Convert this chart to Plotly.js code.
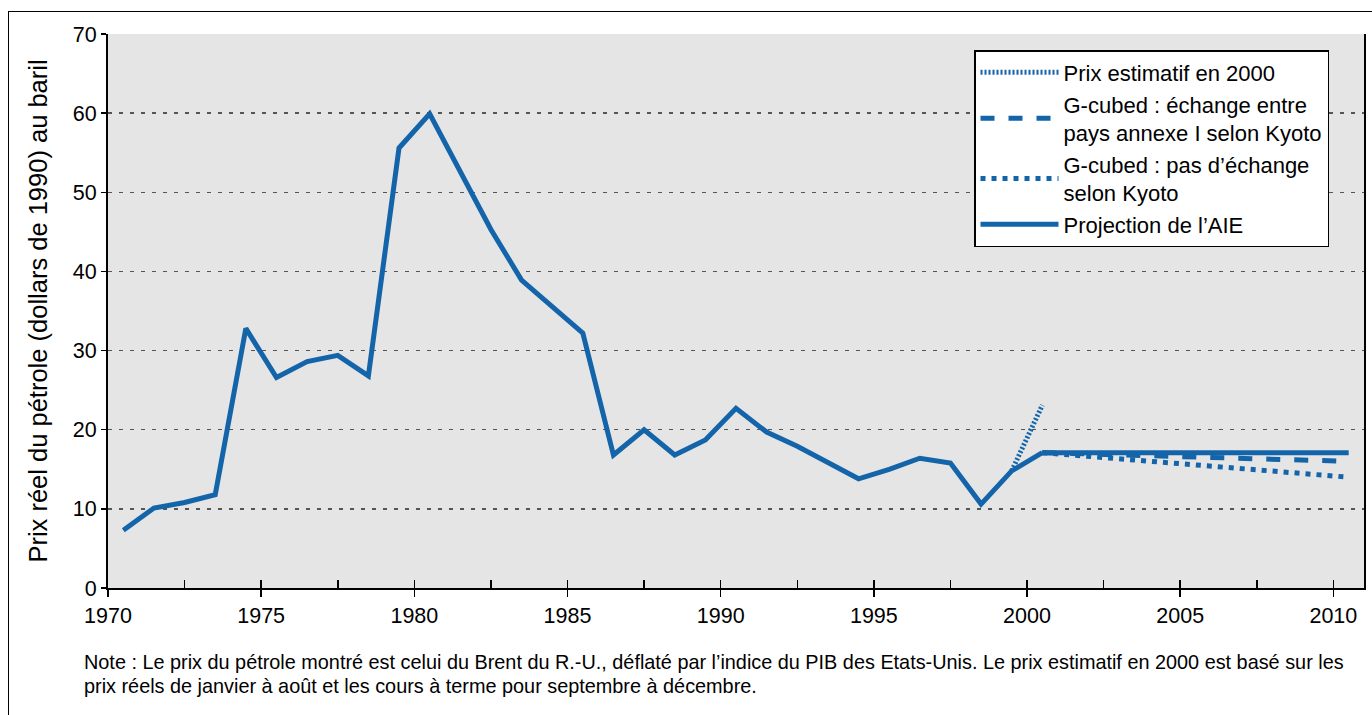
<!DOCTYPE html>
<html>
<head>
<meta charset="utf-8">
<script src="https://cdn.plot.ly/plotly-3.0.1.min.js"></script>
<style>
  html, body { margin: 0; padding: 0; background: #fff; }
  #wrap { position: relative; width: 1372px; height: 715px; overflow: hidden; }
  #chart { position: absolute; left: 0; top: 0; width: 1372px; height: 715px; }
  #frame { position: absolute; left: 8px; top: 11px; width: 1400px; height: 800px;
           border: 1.5px solid #000; pointer-events: none; box-sizing: border-box; }
</style>
</head>
<body>
<div id="wrap"><div id="chart"></div><div id="frame"></div></div>
<script>
// Historical real oil price (1990 dollars per barrel), plotted at mid-year
const histYears = [1970.5, 1971.5, 1972.5, 1973.5, 1974.5, 1975.5, 1976.5, 1977.5, 1978.5, 1979.5,
                   1980.5, 1981.5, 1982.5, 1983.5, 1984.5, 1985.5, 1986.5, 1987.5, 1988.5, 1989.5,
                   1990.5, 1991.5, 1992.5, 1993.5, 1994.5, 1995.5, 1996.5, 1997.5, 1998.5, 1999.5, 2000.5];
const histPrice = [7.3, 10.1, 10.8, 11.8, 32.8, 26.6, 28.6, 29.4, 26.8, 55.6,
                   59.9, 52.6, 45.3, 38.9, 35.5, 32.2, 16.8, 20.0, 16.8, 18.7,
                   22.7, 19.7, 17.9, 15.9, 13.8, 15.0, 16.4, 15.8, 10.6, 14.8, 17.1];

// Estimated price in 2000
const estYears = [1999.5, 2000.5];
const estPrice = [14.8, 23.1];

// Projections
const projYears = [2000.5, 2010.5];
const gcubedTrade = [17.1, 16.0];
const gcubedNoTrade = [17.1, 14.0];
const ieaProjection = [17.1, 17.1];

const seriesNames = [
  "Prix estimatif en 2000",
  "G-cubed : échange entre<br>pays annexe I selon Kyoto",
  "G-cubed : pas d’échange<br>selon Kyoto",
  "Projection de l’AIE"
];

const xTickVals = [1970, 1975, 1980, 1985, 1990, 1995, 2000, 2005, 2010];
const xTickText = ["1970", "1975", "1980", "1985", "1990", "1995", "2000", "2005", "2010"];
const yTickVals = [0, 10, 20, 30, 40, 50, 60, 70];

const noteLine1 = "Note : Le prix du pétrole montré est celui du Brent du R.-U., déflaté par l’indice du PIB des Etats-Unis. Le prix estimatif en 2000 est basé sur les";
const noteLine2 = "prix réels de janvier à août et les cours à terme pour septembre à décembre.";

const blue = "#1464AA";
const font = "'Liberation Sans', Arial, Helvetica, sans-serif";

const traces = [
  { x: histYears, y: histPrice, mode: "lines", showlegend: false, hoverinfo: "x+y",
    line: { color: blue, width: 5 } },
  { x: estYears, y: estPrice, mode: "lines", name: seriesNames[0],
    line: { color: blue, width: 5, dash: "2px,2px" } },
  { x: projYears, y: gcubedTrade, mode: "lines", name: seriesNames[1],
    line: { color: blue, width: 5, dash: "14px,14px" } },
  { x: projYears, y: gcubedNoTrade, mode: "lines", name: seriesNames[2],
    line: { color: blue, width: 5, dash: "5px,6px" } },
  { x: projYears, y: ieaProjection, mode: "lines", name: seriesNames[3],
    line: { color: blue, width: 5 } },
  // invisible trace on overlay axis for inner minor ticks
  { x: [1970, 2011], y: [0, 0], xaxis: "x2", mode: "lines", showlegend: false,
    hoverinfo: "skip", line: { width: 0 }, opacity: 0 }
];

const layout = {
  width: 1372, height: 715,
  margin: { l: 108, r: 8, t: 34, b: 127 },
  paper_bgcolor: "#ffffff",
  plot_bgcolor: "#E5E5E5",
  font: { family: font, color: "#000", size: 21 },
  showlegend: true,
  legend: {
    x: 0.6895, y: 0.971, xanchor: "left", yanchor: "top",
    bgcolor: "#ffffff", bordercolor: "#000", borderwidth: 1.5,
    font: { family: font, size: 22, color: "#000" },
    itemwidth: 78, tracegroupgap: 0
  },
  xaxis: {
    range: [1970, 2011], tickvals: xTickVals, ticktext: xTickText,
    ticks: "outside", ticklen: 7, tickwidth: 1.5, tickcolor: "#000",
    showline: true, linecolor: "#000", linewidth: 2,
    showgrid: false, zeroline: false,
    tickfont: { family: font, size: 21.5, color: "#000" }
  },
  xaxis2: {
    overlaying: "x", anchor: "y", side: "bottom", matches: "x",
    range: [1970, 2011], tick0: 1970, dtick: 2.5,
    ticks: "inside", ticklen: 8, tickwidth: 1.5, tickcolor: "#000",
    showticklabels: false, showline: false, showgrid: false, zeroline: false
  },
  yaxis: {
    range: [0, 70], tickvals: yTickVals,
    ticks: "outside", ticklen: 5, tickwidth: 1.5, tickcolor: "#000",
    showline: true, linecolor: "#000", linewidth: 2, mirror: true,
    showgrid: true, gridcolor: "#555555", gridwidth: 1.5, griddash: "4px,7px",
    zeroline: false,
    tickfont: { family: font, size: 21.5, color: "#000" },
    title: { text: "Prix réel du pétrole (dollars de 1990) au baril",
             font: { family: font, size: 25.5, color: "#000" }, standoff: 18 }
  },
  annotations: [
    { xref: "paper", yref: "paper", x: -0.0207, y: -0.1336, xanchor: "left", yanchor: "middle",
      text: noteLine1, showarrow: false, font: { family: font, size: 19.85, color: "#000" } },
    { xref: "paper", yref: "paper", x: -0.0207, y: -0.1769, xanchor: "left", yanchor: "middle",
      text: noteLine2, showarrow: false, font: { family: font, size: 19.85, color: "#000" } }
  ]
};

Plotly.newPlot("chart", traces, layout, { displayModeBar: false, staticPlot: true });
</script>
</body>
</html>
